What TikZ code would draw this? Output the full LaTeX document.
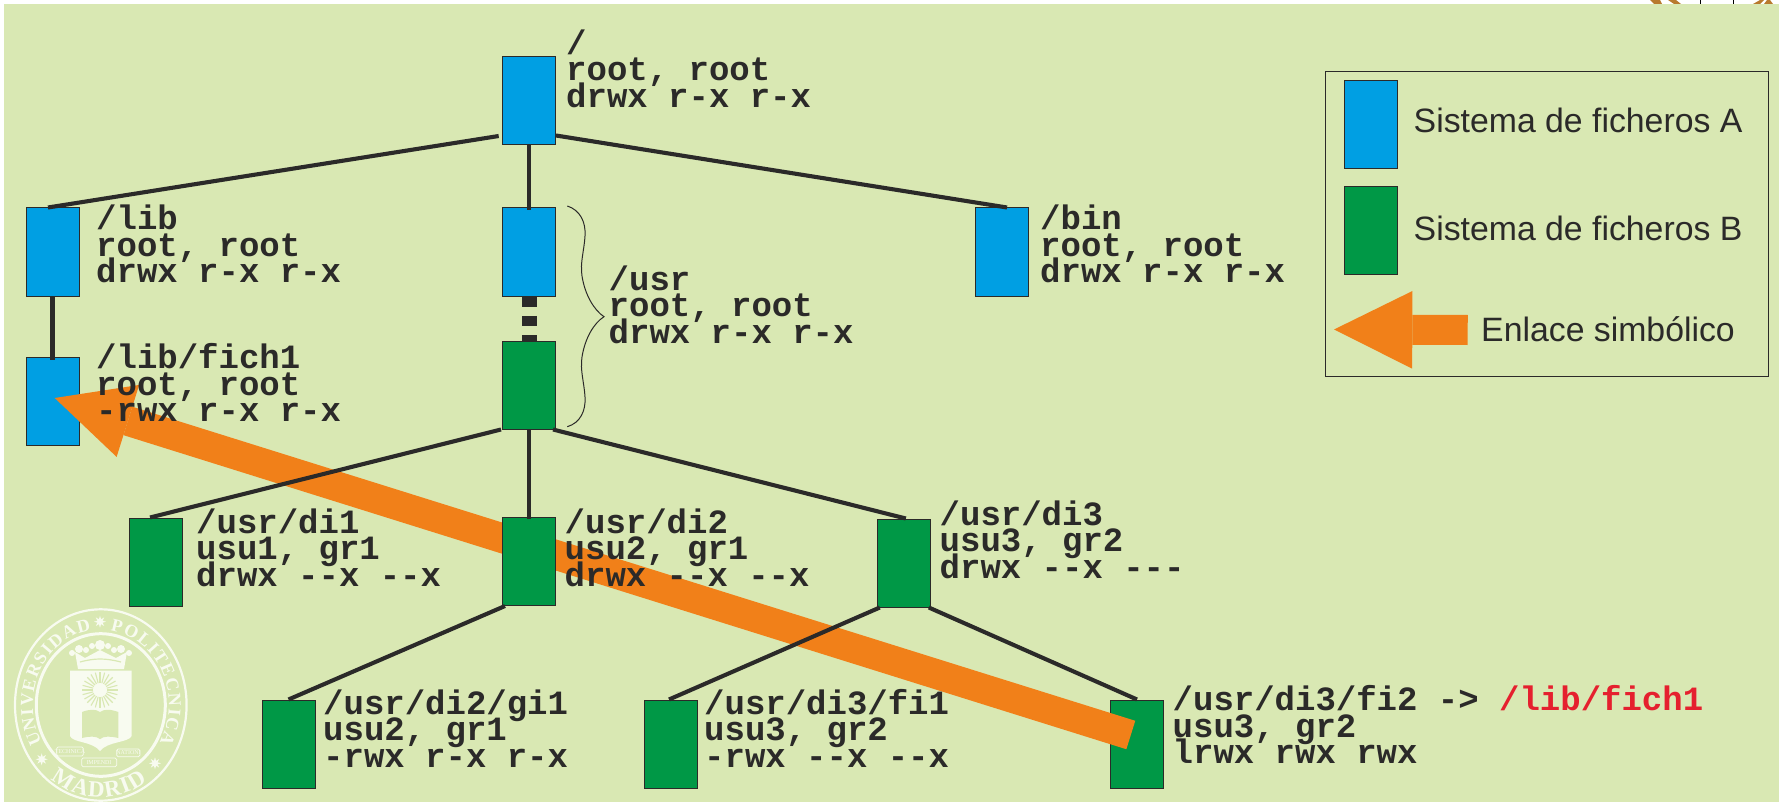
\documentclass[tikz,border=0pt]{standalone}
\usepackage{fontspec}
\setmainfont{Liberation Sans}
\newfontfamily\monob{Liberation Mono}
\newfontfamily\crestfont{Liberation Serif}
\usetikzlibrary{arrows.meta,decorations.text,shapes.geometric}
\definecolor{pagebg}{HTML}{D9E8B3}
\definecolor{fsa}{HTML}{009FE3}
\definecolor{fsb}{HTML}{009846}
\definecolor{linkc}{HTML}{F18019}
\definecolor{ink}{HTML}{2B2A29}
\definecolor{redtxt}{HTML}{E5202E}
\definecolor{crest}{HTML}{F8FBF0}
\definecolor{brownc}{HTML}{B87A2E}
\newcommand{\lblfont}{\monob\bfseries\fontsize{34}{26.5}\selectfont\lineskiplimit=-100pt\relax}
\tikzset{
  fbox/.style={rectangle,draw=ink,line width=1pt,minimum width=53pt,minimum height=88pt,inner sep=0pt},
  fa/.style={fbox,fill=fsa},
  fb/.style={fbox,fill=fsb},
  lbl/.style={font=\lblfont,text=ink,align=left,inner sep=0pt,anchor=base west},
  edge/.style={draw=ink,line width=4.1pt},
  legtxt/.style={font=\fontsize{33.8}{35}\selectfont,text=ink,inner sep=0pt,anchor=base west},
  crestring/.style={draw=crest},
  ribbon/.style={draw=crest,line width=.7pt,rounded corners=1.5pt},
  ribtxt/.style={font=\crestfont\fontsize{6}{6}\selectfont,text=crest,inner sep=0pt},
  crstar/.style={star,star points=8,star point ratio=2.2,fill=crest,inner sep=0pt,minimum size=12pt},
}
\begin{document}
\begin{tikzpicture}[x=1pt,y=-1pt]
\useasboundingbox (0,0) rectangle (1779,802);
\fill[white] (0,0) rectangle (1779,802);
\fill[brownc] (1650,0) -- (1654,4) -- (1662,4) -- (1660,0) -- cycle
  (1668,0) -- (1674,4) -- (1681,4) -- (1676,0) -- cycle
  (1753,4) -- (1760,0) -- (1764,0) -- (1760,4) -- cycle
  (1764,4) -- (1767,0) -- (1770,0) -- (1773,4) -- cycle;
\draw[black,line width=.8pt,fill=white] (1700,4) rectangle (1733,-1);
\fill[pagebg] (4,4) rectangle (1779,802);

% crest
\begin{scope}[shift={(100.8,705)},y=1pt]
  \draw[crestring,line width=2.2pt] (0,0) ellipse [x radius=85.8,y radius=95.7];
  \draw[crestring,line width=3pt] (0,0) ellipse [x radius=64.5,y radius=71.3];
  \path[decorate,decoration={text along path,text align=fit to path,
      text={|\crestfont\fontsize{18}{18}\selectfont\bfseries\color{crest}|UNIVERSIDAD}}]
    (210:68 and 75.5) arc [start angle=210,end angle=98,x radius=68,y radius=75.5];
  \path[decorate,decoration={text along path,text align=fit to path,
      text={|\crestfont\fontsize{18}{18}\selectfont\bfseries\color{crest}|POLITECNICA}}]
    (82:68 and 75.5) arc [start angle=82,end angle=-30,x radius=68,y radius=75.5];
  \path[decorate,decoration={text along path,text align=fit to path,
      text={|\crestfont\fontsize{23}{23}\selectfont\bfseries\color{crest}|MADRID}}]
    (233:83 and 92) arc [start angle=233,end angle=304,x radius=83,y radius=92];
\end{scope}
\node[crstar] (startop) at (100,621.7) {};
\node[crstar] (starleft) at (41.7,759.3) {};
\node[crstar] (starright) at (155,763.3) {};
% crown
\fill[crest] (78,669) -- (75,652) -- (85,658) -- (100,650) -- (116,658) -- (127,652) -- (124,669) -- cycle;
\foreach \cx/\cy/\cr in {72/653/3,79/649/4,86/650/3,92/646/3,100/645/5,108/646/3,114/650/3,121/649/4,129/653/3}
  \fill[crest] (\cx,\cy) circle (\cr);
\draw[pagebg,line width=1.2pt] (80,662) .. controls (95,658) and (105,658) .. (121,662);
% shield
\fill[crest] (70,670.7) -- (131.7,670.7) -- (131.7,736) .. controls (128,743) and (108,741) .. (100,751)
   .. controls (92,741) and (73,743) .. (70,736) -- cycle;
\foreach \a in {0,15,...,345}
  \draw[pagebg,line width=1.1pt] (100,690) ++(\a:7) -- ++(\a:11);
\fill[pagebg] (82,712) .. controls (90,709) and (96,709) .. (100,712) .. controls (104,709) and (110,709) .. (118.3,712)
   -- (118.3,738) .. controls (110,736) and (104,736) .. (100,739) .. controls (96,736) and (90,736) .. (82,738) -- cycle;
% ribbons
\draw[ribbon] (56.7,747) rectangle (83.3,756);
\draw[ribbon] (81.7,758) rectangle (116.7,766.7);
\draw[ribbon] (116.7,749) rectangle (140,756.7);
\node[ribtxt] (rib1) at (70,751.7) {TECHNICA};
\node[ribtxt] (rib2) at (99,762.5) {IMPENDI};
\node[ribtxt] (rib3) at (128.5,752.9) {NATIONI};

% boxes under the link arrow
\node[fa] (fich1) at (52.5,401) {};
\node[fb] (fi2) at (1137,744) {};
\coordinate (linkstart) at (1130.8,735);
\coordinate (linkend) at (54.7,398);
\draw[linkc,line width=29.8pt,-{Triangle[length=76.7pt,width=75.4pt,line width=0pt,fill=linkc]}] (linkstart) -- (linkend);

% boxes over the link arrow
\node[fa] (root) at (529,100.5) {};
\node[fa] (lib) at (52.5,252) {};
\node[fa] (usra) at (529,252) {};
\node[fb] (usrb) at (529,385) {};
\node[fa] (bin) at (1001.5,252) {};
\node[fb] (di1) at (156,562) {};
\node[fb] (di2) at (529,561.5) {};
\node[fb] (di3) at (903.8,563) {};
\node[fb] (gi1) at (288.5,744) {};
\node[fb] (fi1) at (671,744) {};

% connectors
\draw[edge] ([shift={(-3.3,-9)}]root.south west) -- ([shift={(-4.5,0)}]lib.north);
\draw[edge,shorten >=-3pt] (root.south) -- (usra.north);
\draw[edge] ([shift={(0,-9.5)}]root.south east) -- ([shift={(5.5,0)}]bin.north);
\draw[edge,shorten >=-3pt] (lib.south) -- (fich1.north);
\draw[ink,line width=15pt,dash pattern=on 10pt off 9.3pt] (usra.south) -- (usrb.north);
\draw[edge] ([shift={(-1,0)}]usrb.south west) -- ([shift={(-6,0)}]di1.north);
\draw[edge,shorten >=-2pt] (usrb.south) -- (di2.north);
\draw[edge] ([shift={(-3,0)}]usrb.south east) -- ([shift={(2,0)}]di3.north);
\draw[edge] ([shift={(3,0)}]di2.south west) -- (gi1.north);
\draw[edge] ([shift={(3,0)}]di3.south west) -- ([shift={(-2,0)}]fi1.north);
\draw[edge] ([shift={(-2,0)}]di3.south east) -- (fi2.north);

% brace
\draw[ink,line width=1pt] (567.3,206) .. controls (580,210) and (586,222) .. (585,236)
  .. controls (584,252) and (580,262) .. (582,276)
  .. controls (585,295) and (594,310) .. (604,316.7)
  .. controls (594,323) and (585,338) .. (582,357)
  .. controls (580,371) and (584,381) .. (585,397)
  .. controls (586,411) and (580,423) .. (567.3,426.7);

% labels
\node[lbl] (troot) at (566,107.5) {/\\root, root\\drwx r-x r-x};
\node[lbl] (tlib) at (96,283) {/lib\\root, root\\drwx r-x r-x};
\node[lbl] (tfich) at (96,421.5) {/lib/fich1\\root, root\\-rwx r-x r-x};
\node[lbl] (tusr) at (608.5,343) {/usr\\root, root\\drwx r-x r-x};
\node[lbl] (tbin) at (1040,283) {/bin\\root, root\\drwx r-x r-x};
\node[lbl] (tdi1) at (196,586) {/usr/di1\\usu1, gr1\\drwx --x --x};
\node[lbl] (tdi2) at (564.5,586) {/usr/di2\\usu2, gr1\\drwx --x --x};
\node[lbl] (tdi3) at (939.5,578) {/usr/di3\\usu3, gr2\\drwx --x ---};
\node[lbl] (tgi1) at (323,767) {/usr/di2/gi1\\usu2, gr1\\-rwx r-x r-x};
\node[lbl] (tfi1) at (704,767) {/usr/di3/fi1\\usu3, gr2\\-rwx --x --x};
\node[lbl] (tfi2) at (1172.5,763.5) {/usr/di3/fi2 -> \textcolor{redtxt}{/lib/fich1}\\usu3, gr2\\lrwx rwx rwx};

% legend
\draw[ink,line width=1.2pt] (1325.7,71.3) rectangle (1768.3,376.7);
\node[fa] (lega) at (1370.8,124.5) {};
\node[fb] (legb) at (1371,230.5) {};
\coordinate (legtail) at (1467.7,330);
\coordinate (legtip) at (1334,329.5);
\draw[linkc,line width=30pt,-{Triangle[length=78.3pt,width=77.6pt,line width=0pt,fill=linkc]}] (legtail) -- (legtip);
\node[legtxt] (ta) at (1413.5,132.7) {Sistema de ficheros A};
\node[legtxt] (tb) at (1413.5,240.7) {Sistema de ficheros B};
\node[legtxt] (tl) at (1481,341.7) {Enlace simbólico};
\end{tikzpicture}
\end{document}
